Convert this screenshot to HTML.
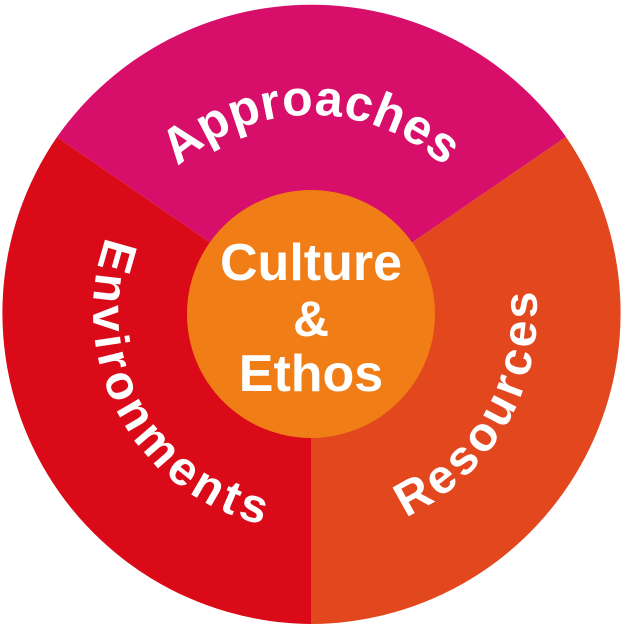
<!DOCTYPE html>
<html><head><meta charset="utf-8"><style>
html,body{margin:0;padding:0;background:#fff;width:632px;height:624px;overflow:hidden}
svg{display:block}
text{font-family:"Liberation Sans",sans-serif;font-weight:bold;fill:#fff}
</style></head><body>
<svg width="632" height="624" viewBox="0 0 632 624" xmlns="http://www.w3.org/2000/svg">
<defs>
<path id="pa" d="M 140.4 213.5 A 197 197 0 0 1 481.6 213.5"/>
<path id="pe" d="M 128.2 193.3 A 218 218 0 0 0 311 530"/>
<path id="pr" d="M 311 538 A 226 226 0 0 0 506.7 199"/>
</defs>
<path d="M311 312 L57 137 A311 311 0 0 1 566 137 Z" fill="#D80F6A"/>
<path d="M311 312 L57 137 A311 311 0 0 0 311 624 Z" fill="#DA0A18"/>
<path d="M311 312 L566 137 A311 311 0 0 1 311 624 Z" fill="#E2471E"/>
<circle cx="311" cy="314" r="124" fill="#F07D15"/>
<text font-size="50"><textPath href="#pa" startOffset="50%" text-anchor="middle" textLength="292" lengthAdjust="spacing">Approaches</textPath></text>
<text font-size="48"><textPath href="#pe" startOffset="50%" text-anchor="middle" textLength="370" lengthAdjust="spacing">Environments</textPath></text>
<text font-size="48"><textPath href="#pr" startOffset="50%" text-anchor="middle" textLength="278" lengthAdjust="spacing">Resources</textPath></text>
<text x="311" y="280" font-size="52" text-anchor="middle">Culture</text>
<text x="311" y="336" font-size="50" text-anchor="middle">&amp;</text>
<text x="311" y="391" font-size="52" text-anchor="middle">Ethos</text>
</svg>
</body></html>
